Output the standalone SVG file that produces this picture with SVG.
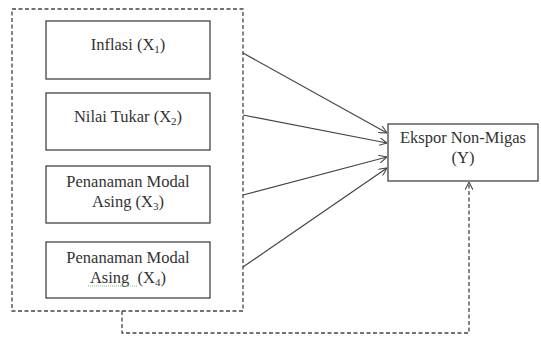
<svg xmlns="http://www.w3.org/2000/svg" width="541" height="337" viewBox="0 0 541 337">
<style>
.box{fill:#fff;stroke:#444;stroke-width:1.3}
.t{font-family:'Liberation Serif','DejaVu Serif',serif;font-size:16.5px;fill:#333;text-anchor:middle}
.sub{font-size:11px}
.ln{stroke:#444;stroke-width:1.2;fill:none}
.dash{stroke:#444;stroke-width:1.3;fill:none;stroke-dasharray:4 2.5}
</style>
<defs>
<marker id="ah" viewBox="0 0 10 10" refX="10" refY="5" markerWidth="8" markerHeight="8" markerUnits="userSpaceOnUse" orient="auto">
<path d="M0,0 L10,5 L0,10" fill="none" stroke="#444" stroke-width="1.3"/>
</marker>
</defs>
<g id="group-x">
<rect x="12" y="9" width="231" height="302" class="dash"/>
</g>
<g id="x1">
<rect x="46" y="21" width="164" height="58" class="box"/>
<text class="t" x="128" y="50">Inflasi (X<tspan class="sub" dy="3">1</tspan><tspan dy="-3">)</tspan></text>
</g>
<g id="x2">
<rect x="46" y="93" width="164" height="57" class="box"/>
<text class="t" x="128" y="122">Nilai Tukar (X<tspan class="sub" dy="3">2</tspan><tspan dy="-3">)</tspan></text>
</g>
<g id="x3">
<rect x="46" y="166" width="164" height="57" class="box"/>
<text class="t" x="128" y="187">Penanaman Modal</text>
<text class="t" x="128" y="207">Asing (X<tspan class="sub" dy="3">3</tspan><tspan dy="-3">)</tspan></text>
</g>
<g id="x4">
<rect x="46" y="242" width="164" height="56" class="box"/>
<text class="t" x="128" y="263">Penanaman Modal</text>
<text class="t" x="128" y="283" xml:space="preserve">Asing  (X<tspan class="sub" dy="3">4</tspan><tspan dy="-3">)</tspan></text>
<line x1="88" y1="286" x2="137" y2="286" stroke="#7cc47c" stroke-width="1" stroke-dasharray="1 1"/>
</g>
<g id="y">
<rect x="388" y="124" width="150" height="57" class="box"/>
<text class="t" x="463" y="143">Ekspor Non-Migas</text>
<text class="t" x="463" y="163">(Y)</text>
</g>
<g id="connectors">
<line x1="243" y1="53" x2="387" y2="133" class="ln" marker-end="url(#ah)"/>
<line x1="243" y1="115" x2="387" y2="143" class="ln" marker-end="url(#ah)"/>
<line x1="243" y1="195" x2="387" y2="157" class="ln" marker-end="url(#ah)"/>
<line x1="243" y1="267" x2="387" y2="168" class="ln" marker-end="url(#ah)"/>
<path d="M122,311 V333 H469 V182" class="dash" marker-end="url(#ah)"/>
</g>
</svg>
